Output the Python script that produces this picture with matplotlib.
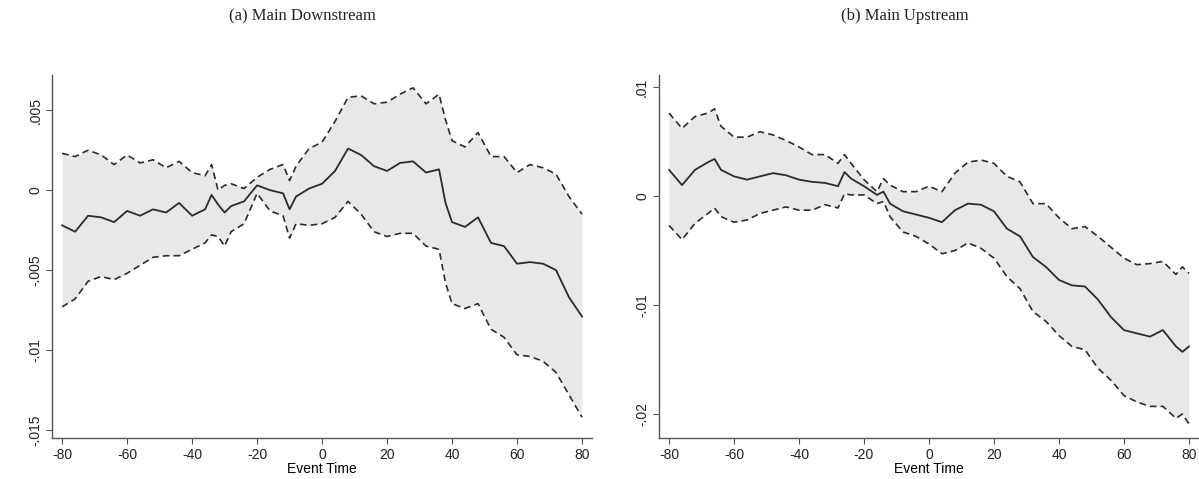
import matplotlib
matplotlib.use("Agg")
import matplotlib.pyplot as plt
from matplotlib.ticker import FixedLocator

# ---------------- data: panel (a) Main Downstream ----------------
x_down = [-80, -76, -72, -68, -64, -60, -56, -52, -48, -44, -40, -36, -34, -32, -30, -28,
          -24, -20, -16, -12, -10, -8, -4, 0, 4, 8, 12, 16, 20, 24, 28, 32, 36, 38, 40,
          44, 48, 52, 56, 60, 64, 68, 72, 76, 80]
coef_down = [-0.0022, -0.0026, -0.0016, -0.0017, -0.0020, -0.0013, -0.0016, -0.0012, -0.0014,
             -0.0008, -0.0016, -0.0012, -0.0003, -0.0009, -0.0014, -0.0010, -0.0007, 0.0003,
             0.0000, -0.0002, -0.0012, -0.0004, 0.0001, 0.0004, 0.0012, 0.0026, 0.0022, 0.0015,
             0.0012, 0.0017, 0.0018, 0.0011, 0.0013, -0.0008, -0.0020, -0.0023, -0.0017, -0.0033,
             -0.0035, -0.0046, -0.0045, -0.0046, -0.0050, -0.0067, -0.0079]
upper_down = [0.0023, 0.0021, 0.0025, 0.0022, 0.0016, 0.0022, 0.0017, 0.0019, 0.0014, 0.0018,
              0.0011, 0.0009, 0.0016, 0.0000, 0.0003, 0.0004, 0.0001, 0.0008, 0.0013, 0.0016,
              0.0006, 0.0015, 0.0026, 0.0030, 0.0043, 0.0058, 0.0059, 0.0054, 0.0055, 0.0060,
              0.0064, 0.0054, 0.0060, 0.0044, 0.0031, 0.0027, 0.0036, 0.0021, 0.0021, 0.0011,
              0.0016, 0.0014, 0.0010, -0.0004, -0.0015]
lower_down = [-0.0073, -0.0068, -0.0057, -0.0054, -0.0056, -0.0052, -0.0047, -0.0042, -0.0041,
              -0.0041, -0.0037, -0.0033, -0.0028, -0.0029, -0.0035, -0.0026, -0.0021, -0.0002,
              -0.0013, -0.0016, -0.0030, -0.0021, -0.0022, -0.0021, -0.0017, -0.0007, -0.0015,
              -0.0026, -0.0029, -0.0027, -0.0027, -0.0035, -0.0037, -0.0058, -0.0071, -0.0074,
              -0.0071, -0.0087, -0.0092, -0.0103, -0.0104, -0.0107, -0.0114, -0.0128, -0.0142]

# ---------------- data: panel (b) Main Upstream ----------------
x_up = [-80, -76, -72, -68, -66, -64, -60, -56, -52, -48, -44, -40, -36, -32, -28, -26, -24,
        -20, -16, -14, -12, -8, -4, 0, 4, 8, 12, 16, 20, 24, 28, 32, 36, 40, 44, 48, 52, 56,
        60, 64, 68, 72, 76, 78, 80]
coef_up = [0.0024, 0.0010, 0.0024, 0.0031, 0.0034, 0.0024, 0.0018, 0.0015, 0.0018, 0.0021,
           0.0019, 0.0015, 0.0013, 0.0012, 0.0009, 0.0022, 0.0016, 0.0009, 0.0001, 0.0004,
           -0.0007, -0.0014, -0.0017, -0.0020, -0.0024, -0.0013, -0.0007, -0.0008, -0.0014,
           -0.0030, -0.0037, -0.0056, -0.0065, -0.0077, -0.0082, -0.0083, -0.0095, -0.0111,
           -0.0123, -0.0126, -0.0129, -0.0123, -0.0138, -0.0143, -0.0138]
upper_up = [0.0076, 0.0062, 0.0073, 0.0076, 0.0080, 0.0064, 0.0054, 0.0054, 0.0059, 0.0056,
            0.0051, 0.0045, 0.0038, 0.0038, 0.0030, 0.0038, 0.0030, 0.0015, 0.0004, 0.0016,
            0.0010, 0.0004, 0.0004, 0.0009, 0.0004, 0.0021, 0.0031, 0.0033, 0.0030, 0.0018,
            0.0013, -0.0007, -0.0007, -0.0020, -0.0030, -0.0028, -0.0037, -0.0047, -0.0057,
            -0.0063, -0.0062, -0.0060, -0.0072, -0.0065, -0.0071]
lower_up = [-0.0027, -0.0040, -0.0025, -0.0016, -0.0011, -0.0019, -0.0024, -0.0022, -0.0016,
            -0.0013, -0.0010, -0.0013, -0.0013, -0.0008, -0.0011, 0.0002, 0.0001, 0.0001,
            -0.0007, -0.0005, -0.0019, -0.0033, -0.0037, -0.0044, -0.0053, -0.0050, -0.0043,
            -0.0048, -0.0057, -0.0074, -0.0085, -0.0106, -0.0115, -0.0128, -0.0138, -0.0141,
            -0.0158, -0.0169, -0.0183, -0.0189, -0.0193, -0.0193, -0.0204, -0.0200, -0.0209]

titles = ["(a) Main Downstream", "(b) Main Upstream"]
xlabel = "Event Time"
xticks = [-80, -60, -40, -20, 0, 20, 40, 60, 80]
yticks_down = [-0.015, -0.01, -0.005, 0, 0.005]
ylabels_down = ["-.015", "-.01", "-.005", "0", ".005"]
yticks_up = [-0.02, -0.01, 0, 0.01]
ylabels_up = ["-.02", "-.01", "0", ".01"]

fig = plt.figure(figsize=(11.99, 4.79), dpi=100)
fig.patch.set_facecolor("white")

ax1 = fig.add_axes([0.0434, 0.0856, 0.4504, 0.7578])
ax2 = fig.add_axes([0.5496, 0.0856, 0.4504, 0.7578])

panels = [
    (ax1, x_down, coef_down, upper_down, lower_down, yticks_down, ylabels_down, (-0.0155, 0.0072)),
    (ax2, x_up, coef_up, upper_up, lower_up, yticks_up, ylabels_up, (-0.0222, 0.0111)),
]

line_col = "#2b2b2b"
fill_col = "#e8e8e8"
for i, (ax, xs, c, u, l, yt, yl, ylim) in enumerate(panels):
    ax.fill_between(xs, l, u, color=fill_col, linewidth=0, zorder=1)
    ax.plot(xs, u, color=line_col, lw=1.2, ls=(0, (4, 2.5)), zorder=2)
    ax.plot(xs, l, color=line_col, lw=1.2, ls=(0, (4, 2.5)), zorder=2)
    ax.plot(xs, c, color=line_col, lw=1.3, zorder=3)
    ax.set_xlim(-83.1, 83.1)
    ax.set_ylim(*ylim)
    ax.set_xticks(xticks)
    ax.set_xticklabels([str(t) for t in xticks], fontsize=10, family="Liberation Sans")
    ax.yaxis.set_major_locator(FixedLocator(yt))
    ax.set_yticklabels(yl, fontsize=10, family="Liberation Sans", rotation=90, va="center")
    ax.set_xlabel(xlabel, fontsize=10, family="Liberation Sans", labelpad=0)
    for s in ["top", "right"]:
        ax.spines[s].set_visible(False)
    for s in ["left", "bottom"]:
        ax.spines[s].set_color("#555555")
        ax.spines[s].set_linewidth(1.0)
    ax.tick_params(axis="both", direction="out", length=4, width=0.8, color="#555555",
                   labelcolor="#222222", pad=3)
    ax.set_facecolor("white")

fig.text(0.252, 0.966, titles[0], ha="center", va="center", fontsize=12, family="Liberation Serif",
         color="#222222")
fig.text(0.755, 0.966, titles[1], ha="center", va="center", fontsize=12, family="Liberation Serif",
         color="#222222")

fig.savefig("out.png", dpi=100, facecolor="white")
